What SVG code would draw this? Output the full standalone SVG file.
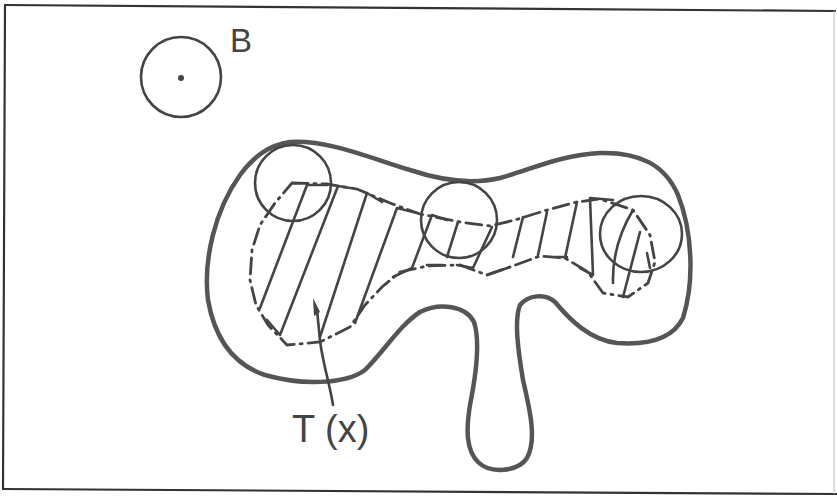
<svg xmlns="http://www.w3.org/2000/svg" width="837" height="497" viewBox="0 0 837 497">
<style>
.frame{fill:none;stroke:#333;stroke-width:2.2;stroke-linecap:round}
.faint{fill:none;stroke:#bbb;stroke-width:1}
.blob{fill:none;stroke:#555;stroke-width:4.5;stroke-linejoin:round}
.circ{fill:none;stroke:#444;stroke-width:2.6}
.hatch{fill:none;stroke:#444;stroke-width:2.6;stroke-linecap:round;stroke-linejoin:round}
.bound{fill:none;stroke:#444;stroke-width:2.8;stroke-linecap:round;stroke-dasharray:16 6 2 6}
.lbl{font-family:"Liberation Sans",Arial,sans-serif;fill:#444}
</style>
<rect width="837" height="497" fill="#fff"/>
<g id="frame">
<path class="frame" d="M5,5 L835,11"/>
<path class="frame" d="M5,5 L3,489"/>
<path class="frame" d="M3,489 L837,494"/>
<path class="faint" d="M834,11 L834,494"/>
</g>
<g id="ball-B">
<circle class="circ" cx="181" cy="77" r="40" stroke-width="3"/>
<circle cx="181" cy="78" r="3" fill="#444"/>
<text class="lbl" x="230" y="52" font-size="33">B</text>
</g>
<g id="region-outline">
<path class="blob" d="M290,142 C330,140 370,158 410,170 C440,180 470,185 500,178 C530,170 560,155 600,153 C640,152 665,165 678,195 C692,230 695,280 683,318 C672,340 645,345 617,343 C590,340 570,320 555,302 C545,293 528,295 520,305 C514,320 518,350 523,380 C530,410 537,440 527,458 C518,472 490,474 478,462 C466,450 466,430 470,405 C476,375 480,340 474,322 C466,306 440,302 420,312 C400,325 385,350 365,370 C345,385 300,385 265,375 C235,365 215,340 208,300 C203,260 215,210 240,175 C255,155 270,145 290,142 Z"/>
</g>
<g id="balls">
<circle class="circ" cx="293" cy="183" r="38"/>
<circle class="circ" cx="459" cy="220" r="38"/>
<ellipse class="circ" cx="641" cy="234" rx="41" ry="38"/>
</g>
<g id="set-T">
<path class="bound" d="M292,183 L327,184 L357,189 L390,203 L420,214 L460,222 L490,226 L515,220 L547,210 L577,202 L600,199 L633,210 L650,235 L655,262 L648,283 L628,297 L603,293 L588,272 L565,258 L540,256 L510,267 L487,275 L460,265 L427,266 L400,272 L382,287 L365,305 L350,327 L320,342 L287,345 L268,325 L256,305 L250,280 L252,250 L260,225 L275,203 Z"/>
<path class="hatch" d="M327,185 L307,185 L260,308"/>
<path class="hatch" d="M350,188 L338,186 L280,335 L267,320"/>
<path class="hatch" d="M382,202 L367,193 L320,337"/>
<path class="hatch" d="M417,213 L397,208 L355,323"/>
<path class="hatch" d="M447,220 L432,215 L412,268 L393,277"/>
<path class="hatch" d="M458,222 L447,257 M427,265 L443,265"/>
<path class="hatch" d="M492,227 L473,268 L457,265"/>
<path class="hatch" d="M523,217 L513,257 M487,275 L510,267"/>
<path class="hatch" d="M547,212 L538,255 M556,257 L567,257"/>
<path class="hatch" d="M577,202 L565,258"/>
<path class="hatch" d="M613,200 L590,198 L593,275 L580,268"/>
<path class="hatch" d="M633,210 Q612,245 613,283"/>
<path class="hatch" d="M640,232 L623,297"/>
<path class="hatch" d="M647,253 L650,268"/>
</g>
<g id="label-T">
<path class="hatch" d="M333,405 C330,385 322,360 320,340 L317,310"/>
<path d="M313,298 L320,312 L314,316 Z" fill="#444"/>
<text class="lbl" x="292" y="442" font-size="38">T (x)</text>
</g>
</svg>
